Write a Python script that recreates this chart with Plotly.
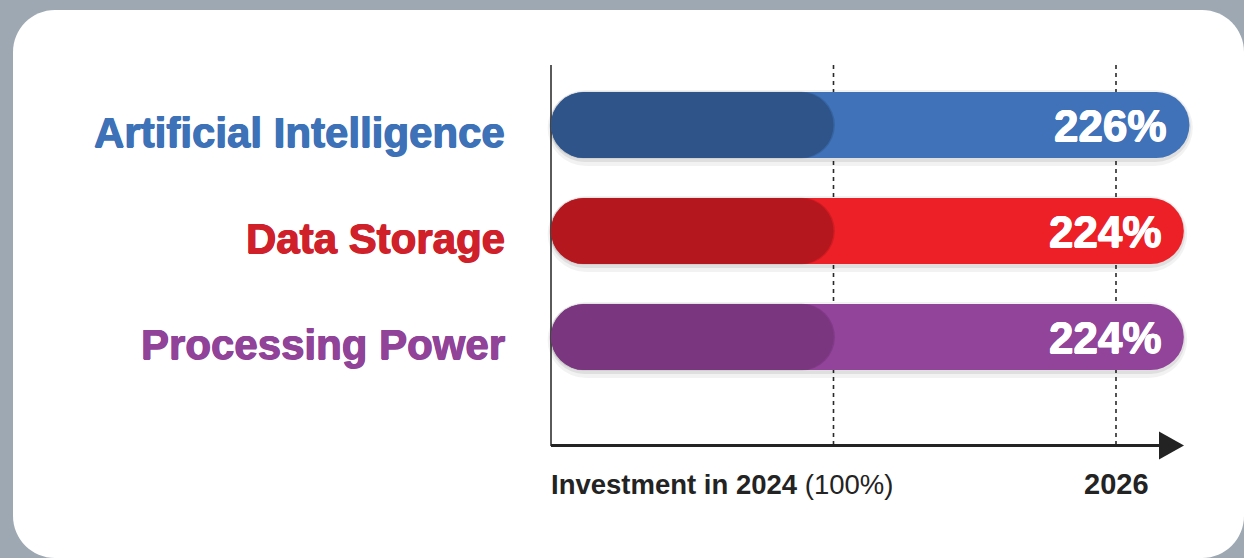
import plotly.graph_objects as go

# ---------------- data ----------------
categories = ["Artificial Intelligence", "Data Storage", "Processing Power"]
growth_2026 = [226, 224, 224]          # investment in 2026 relative to 2024 (%)
base_2024 = [100, 100, 100]            # investment in 2024 (%)
value_labels = ["226%", "224%", "224%"]
axis_label_left_bold = "Investment in 2024"
axis_label_left_rest = " (100%)"
axis_label_right = "2026"
year_marks = [100, 200]                # dashed reference lines (%)

# ---------------- style ----------------
W, H = 1244, 558
X0_PX = 551            # pixel position of 0 %
PX_PER_PCT = 2.825     # pixels per percentage point
ROW0_PX = 125          # centre of first row (px from top)
ROW_PX = 106           # spacing between rows
BAR_PX = 66            # bar thickness

light = ["#3f72b8", "#ee2027", "#92439a"]
dark = ["#2e5489", "#b5171e", "#7a367e"]
label_col = ["#3d72b8", "#d0202a", "#904398"]
ink = "#232323"
FONT = "Liberation Sans, Arial, Helvetica, sans-serif"

def ypaper(px):
    return 1 - px / H

def xpaper(px):
    return px / W

def xdata(px):
    return (px - X0_PX) / PX_PER_PCT

def heavy(color, d=0.6):
    return f"{d}px 0 0 {color}, -{d}px 0 0 {color}, 0 {d}px 0 {color}"

y_top = -ROW0_PX / ROW_PX
y_bot = y_top + H / ROW_PX
bar_w = BAR_PX / ROW_PX
ys = list(range(len(categories)))

fig = go.Figure()

def pill(values, colors, width, offset_px=0.0, pad=0.0):
    fig.add_trace(go.Bar(
        y=ys, base=[-pad] * len(values), x=[v + 2 * pad for v in values],
        orientation="h", width=width, offset=-width / 2 + offset_px / ROW_PX,
        marker=dict(color=colors, line=dict(width=0), cornerradius="50%"),
        hoverinfo="skip", showlegend=False,
    ))

# soft shadows
pill(growth_2026, "rgba(0,0,0,0.05)", bar_w + 10 / ROW_PX, offset_px=3, pad=1.2)
pill(growth_2026, "rgba(0,0,0,0.08)", bar_w + 4 / ROW_PX, offset_px=2, pad=0.5)
# 2026 pills
pill(growth_2026, light, bar_w)
# 2024 pill shadow + pills
pill(base_2024, "rgba(0,0,0,0.12)", bar_w + 1 / ROW_PX, pad=0.5)
pill(base_2024, dark, bar_w)

shapes = []
# card
x0, x1 = xpaper(13), xpaper(W)
yt, yb = ypaper(10), ypaper(H)
rx, ry = 42 / W, 42 / H
k = 0.5523
card = (
    f"M {x0+rx},{yt} L {x1-rx},{yt} "
    f"C {x1-rx+k*rx},{yt} {x1},{yt-ry+k*ry} {x1},{yt-ry} "
    f"L {x1},{yb+ry} "
    f"C {x1},{yb+ry-k*ry} {x1-rx+k*rx},{yb} {x1-rx},{yb} "
    f"L {x0+rx},{yb} "
    f"C {x0+rx-k*rx},{yb} {x0},{yb+ry-k*ry} {x0},{yb+ry} "
    f"L {x0},{yt-ry} "
    f"C {x0},{yt-ry+k*ry} {x0+rx-k*rx},{yt} {x0+rx},{yt} Z"
)
shapes.append(dict(type="path", xref="paper", yref="paper", path=card,
                   fillcolor="white", line=dict(width=0), layer="below"))
# dashed year lines
for m in year_marks:
    shapes.append(dict(type="line", xref="x", yref="paper", x0=m, x1=m,
                       y0=ypaper(65), y1=ypaper(446), layer="below",
                       line=dict(color="#2a2a2a", width=1.6, dash="4px,4px")))
# axes
shapes.append(dict(type="line", xref="x", yref="paper", x0=0, x1=0,
                   y0=ypaper(65), y1=ypaper(446), layer="below",
                   line=dict(color=ink, width=1.5)))
shapes.append(dict(type="line", xref="x", yref="paper", x0=0, x1=xdata(1162),
                   y0=ypaper(445.5), y1=ypaper(445.5),
                   line=dict(color=ink, width=3)))
shapes.append(dict(type="path", xref="x", yref="paper",
                   xsizemode="pixel", ysizemode="pixel",
                   xanchor=xdata(1159), yanchor=ypaper(445.5),
                   path="M 0,-14 L 25,0 L 0,14 Z",
                   fillcolor=ink, line=dict(width=0)))

ann = []
for i, c in enumerate(categories):
    ann.append(dict(xref="paper", yref="y", x=xpaper(507), y=i, text=c,
                    xanchor="right", yanchor="middle", showarrow=False, yshift=-7,
                    font=dict(family=FONT, size=42, color=label_col[i], weight=700,
                              shadow=heavy(label_col[i]))))
for i, v in enumerate(growth_2026):
    ann.append(dict(xref="x", yref="y", x=v, y=i, text=value_labels[i],
                    xanchor="right", yanchor="middle", showarrow=False, xshift=-20,
                    font=dict(family=FONT, size=44, color="white", weight=700,
                              shadow=heavy("white"))))
ann.append(dict(xref="x", yref="paper", x=0, y=ypaper(484),
                text=f"<b>{axis_label_left_bold}</b>{axis_label_left_rest}",
                xanchor="left", yanchor="middle", showarrow=False, xshift=-2,
                font=dict(family=FONT, size=27.5, color=ink)))
ann.append(dict(xref="x", yref="paper", x=year_marks[1], y=ypaper(484),
                text=f"<b>{axis_label_right}</b>",
                xanchor="center", yanchor="middle", showarrow=False,
                font=dict(family=FONT, size=29, color=ink)))

fig.update_layout(
    width=W, height=H,
    margin=dict(l=0, r=0, t=0, b=0),
    paper_bgcolor="#9ea8b2", plot_bgcolor="rgba(0,0,0,0)",
    barmode="overlay", showlegend=False,
    xaxis=dict(range=[xdata(0), xdata(W)], visible=False, fixedrange=True),
    yaxis=dict(range=[y_bot, y_top], visible=False, fixedrange=True),
    shapes=shapes, annotations=ann,
)

fig.write_html("out.html", config={"displayModeBar": False},
               post_script="document.body.style.margin='0';")
